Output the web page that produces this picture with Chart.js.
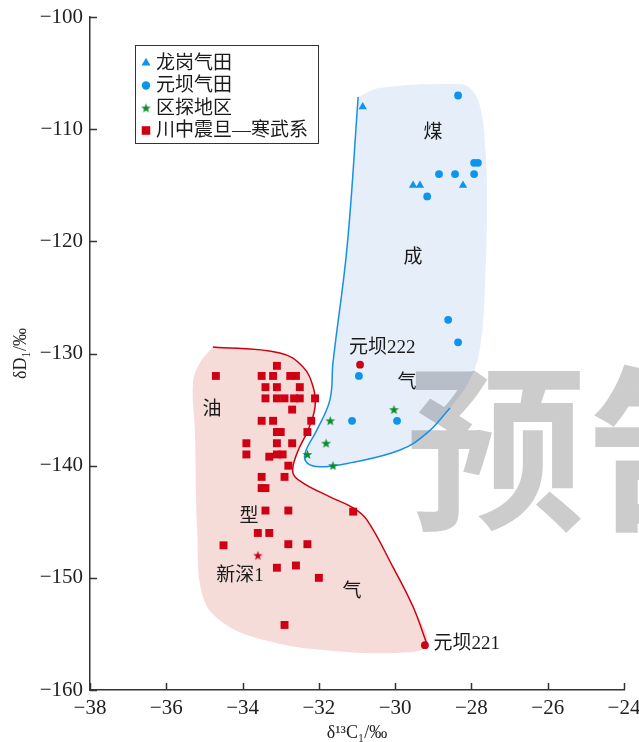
<!DOCTYPE html>
<html><head><meta charset="utf-8">
<script src="https://cdn.jsdelivr.net/npm/chart.js@4.4.0/dist/chart.umd.min.js"></script>
<style>html,body{margin:0;padding:0;background:#fff;}canvas{display:block;}</style>
</head><body>
<canvas id="c" width="639" height="742"></canvas>
<script>
// ---------- data ----------
const xTicks = [-38, -36, -34, -32, -30, -28, -26, -24];
const yTicks = [-160, -150, -140, -130, -120, -110, -100];
const seriesNames = ['龙岗气田', '元坝气田', '区探地区', '川中震旦—寒武系'];

const longgangX = [-30.85, -29.53, -29.35, -28.22];
const longgangY = [-108, -115, -115, -115];

const yuanbaX = [-28.35, -27.93, -27.83, -28.85, -28.43, -27.93, -29.16, -28.61, -28.35, -30.95, -31.13, -29.95];
const yuanbaY = [-107, -113, -113, -114, -114, -114, -116, -127, -129, -132, -136, -136];

const tanquX = [-30.03, -31.7, -31.81, -32.3, -31.63];
const tanquY = [-135, -136, -138, -139, -140];

const chuanzhongX = [-34.7, -33.1, -33.5, -33.2, -32.75, -32.6, -33.4, -33.1, -32.5, -33.4, -33.1, -32.9, -32.65, -32.5, -32.1,
  -32.7, -33.5, -33.2, -32.2, -33.1, -33.0, -32.3, -33.9, -33.1, -32.7, -33.9, -33.3, -33.1, -32.95, -32.8,
  -33.5, -32.9, -33.5, -33.4, -33.4, -32.8, -33.6, -33.3, -34.5, -32.8, -32.3, -33.1, -32.6, -32.0, -32.9, -31.1];
const chuanzhongY = [-132, -131.1, -132, -132, -132, -132, -133, -133, -133, -134, -134, -134, -134, -134, -134,
  -135, -136, -136, -136, -137, -137, -137, -138, -138, -138, -139, -139.2, -139, -139, -140,
  -141, -141, -142, -142, -144, -144, -146, -146, -147.1, -147, -147, -149.1, -148.9, -150, -154.2, -144.1];

// named wells
const yb222 = [-30.92, -131];
const yb221 = [-29.22, -156];
const xs1 = [-33.6, -148];

// coal-type gas field outline (fill) and its drawn boundary
const coalFillX = [-30.97, -30.4, -28.38, -28.04, -27.77, -27.64, -27.59, -27.64, -27.77, -28.04, -28.56, -29.16, -29.87, -31.18, -31.97, -32.31, -32.36, -32.05, -31.71, -31.63, -31.26, -30.97];
const coalFillY = [-107.13, -106.33, -105.97, -106.33, -108.02, -111.59, -116.04, -123.44, -129.4, -132.35, -134.85, -137.08, -138.6, -139.75, -140.1, -139.75, -138.86, -136.81, -134.14, -130.84, -120.5, -107.13];
const coalLineX = [-30.97, -31.26, -31.63, -31.71, -32.05, -32.36, -32.31, -31.97, -31.18, -29.87, -29.16, -28.56];
const coalLineY = [-107.13, -120.5, -130.84, -134.14, -136.81, -138.86, -139.75, -140.1, -139.75, -138.6, -137.08, -134.85];

// oil-type gas outline (fill) and its drawn boundary
const oilLineX = [-34.78, -33.02, -32.42, -32.15, -32.1, -32.28, -32.57, -32.68, -32.42, -31.71, -31.1, -30.74, -30.06, -29.53, -29.16];
const oilLineY = [-129.41, -129.95, -131.19, -132.98, -134.76, -136.81, -138.86, -140.64, -141.53, -142.78, -143.76, -144.83, -149.02, -152.58, -155.97];
const oilFillX = oilLineX.concat([-29.87, -31.97, -33.46, -34.51, -35.04, -35.19, -35.25, -35.3, -35.12, -34.78]);
const oilFillY = oilLineY.concat([-156.68, -156.42, -155.53, -154.01, -151.69, -145.72, -136.81, -132.62, -130.84, -129.41]);

// text annotations (data coordinates)
const noteTexts = ['煤', '成', '气', '油', '型', '气', '新深1', '元坝222', '元坝221'];
const noteX = [-29.01, -29.53, -29.69, -34.8, -33.83, -31.13, -34.07, -30.34, -28.12];
const noteY = [-110.34, -121.48, -132.62, -135.03, -144.56, -151.25, -149.82, -129.5, -155.88];

const watermark = '预告';

// ---------- helpers ----------
const pts = (xs, ys) => xs.map((x, i) => ({x: x, y: ys[i]}));
function starCanvas(color, R, r) {
  const s = Math.ceil(R * 2 + 2);
  const c = document.createElement('canvas');
  c.width = s; c.height = s;
  const g = c.getContext('2d');
  g.fillStyle = color;
  g.beginPath();
  for (let i = 0; i < 10; i++) {
    const rad = i % 2 === 0 ? R : r;
    const a = -Math.PI / 2 + i * Math.PI / 5;
    const px = s / 2 + rad * Math.cos(a), py = s / 2 + rad * Math.sin(a) + 0.4;
    if (i === 0) g.moveTo(px, py); else g.lineTo(px, py);
  }
  g.closePath(); g.fill();
  return c;
}
const BLUE = '#0b95ee', GREEN = '#0a8a2a', RED = '#d00014';
const greenStar = starCanvas(GREEN, 5.2, 2.1);
const redStar = starCanvas(RED, 5.0, 2.0);
const fmt = v => String(v).replace('-', '\u2212');
const CJK = '"Liberation Serif","Noto Sans CJK SC"';

const datasets = [
  {type: 'line', data: pts(oilFillX, oilFillY), fill: 'shape', backgroundColor: '#f6dcd8', borderWidth: 0, pointRadius: 0, tension: 0.4, order: 10},
  {type: 'line', data: pts(coalFillX, coalFillY), fill: 'shape', backgroundColor: '#e5eef9', borderWidth: 0, pointRadius: 0, tension: 0.4, order: 10},
  {type: 'line', data: pts(oilLineX, oilLineY), fill: false, borderColor: '#cc0010', borderWidth: 1.5, pointRadius: 0, tension: 0.4, order: 5},
  {type: 'line', data: pts(coalLineX, coalLineY), fill: false, borderColor: '#1890e6', borderWidth: 1.5, pointRadius: 0, tension: 0.4, order: 5},
  {label: seriesNames[0], data: pts(longgangX, longgangY), pointStyle: 'triangle', pointRadius: 4.8, backgroundColor: BLUE, borderColor: BLUE, pointBorderWidth: 0, order: 1},
  {label: seriesNames[1], data: pts(yuanbaX, yuanbaY), pointStyle: 'circle', pointRadius: 3.9, backgroundColor: BLUE, borderColor: BLUE, pointBorderWidth: 0, order: 1},
  {label: seriesNames[2], data: pts(tanquX, tanquY), pointStyle: greenStar, backgroundColor: GREEN, borderColor: GREEN, order: 1},
  {label: seriesNames[3], data: pts(chuanzhongX, chuanzhongY), pointStyle: 'rect', pointRadius: 5.6, backgroundColor: RED, borderColor: RED, pointBorderWidth: 0, order: 1},
  {data: [{x: yb222[0], y: yb222[1]}, {x: yb221[0], y: yb221[1]}], pointStyle: 'circle', pointRadius: 3.9, backgroundColor: RED, borderColor: RED, pointBorderWidth: 0, order: 1},
  {data: [{x: xs1[0], y: xs1[1]}], pointStyle: redStar, backgroundColor: RED, borderColor: RED, order: 1}
];

const decor = {
  id: 'decor',
  afterDatasetDraw(chart, args) {
    if (args.index !== 0) return;
    const {ctx} = chart;
    ctx.save();
    ctx.fillStyle = 'rgba(0,0,0,0.2)';
    ctx.font = 'bold 178px "Noto Sans CJK SC"';
    ctx.textBaseline = 'middle';
    ctx.textAlign = 'left';
    ctx.fillText(watermark, 407, 448);
    ctx.restore();
  },
  afterDraw(chart) {
    const {ctx, scales: {x, y}} = chart;
    ctx.save();
    // inward tick marks
    ctx.strokeStyle = '#333'; ctx.lineWidth = 1.5;
    ctx.beginPath();
    xTicks.forEach(v => { const p = Math.round(x.getPixelForValue(v)) + 0.5; ctx.moveTo(p, y.bottom); ctx.lineTo(p, y.bottom - 7); });
    yTicks.forEach(v => { const p = Math.round(y.getPixelForValue(v)) + 0.5; ctx.moveTo(x.left, p); ctx.lineTo(x.left + 7, p); });
    ctx.stroke();
    // annotations
    ctx.fillStyle = '#1a1a1a';
    ctx.font = '19px ' + CJK;
    ctx.textAlign = 'center'; ctx.textBaseline = 'middle';
    noteTexts.forEach((t, i) => ctx.fillText(t, x.getPixelForValue(noteX[i]), y.getPixelForValue(noteY[i])));
    // legend
    ctx.strokeStyle = '#333'; ctx.lineWidth = 1;
    ctx.strokeRect(135.5, 45.5, 183, 98);
    ctx.textAlign = 'left';
    ctx.font = '19px ' + CJK;
    [4, 5, 6, 7].forEach((di, i) => {
      const ds = chart.data.datasets[di];
      const cy = 63 + i * 22.5;
      ctx.fillStyle = ds.backgroundColor;
      ctx.strokeStyle = ds.backgroundColor;
      Chart.helpers.drawPoint(ctx, {pointStyle: ds.pointStyle, radius: (ds.pointRadius || 4) * 1.08, rotation: 0, borderWidth: 0}, 146, cy);
      ctx.fillStyle = '#1a1a1a';
      ctx.fillText(ds.label, 156, cy + 1);
    });
    ctx.restore();
  }
};

new Chart(document.getElementById('c'), {
  type: 'scatter',
  data: {datasets: datasets},
  options: {
    responsive: false,
    animation: false,
    events: [],
    layout: {padding: {top: 17, right: 15, left: 0, bottom: 0}},
    plugins: {legend: {display: false}, tooltip: {enabled: false}},
    scales: {
      x: {
        type: 'linear', min: -38, max: -24,
        afterBuildTicks: s => { s.ticks = xTicks.map(v => ({value: v})); },
        afterFit: s => { s.height = 52; s.paddingLeft = 0; s.paddingRight = 0; },
        grid: {display: false, drawTicks: false},
        border: {display: true, color: '#333', width: 1.5},
        ticks: {callback: v => fmt(v), font: {family: 'Liberation Serif', size: 21}, color: '#222', padding: 6, maxRotation: 0, autoSkip: false},
        title: {display: true, text: 'δ¹³C₁/‰', font: {family: 'Liberation Serif', size: 18, lineHeight: 1}, color: '#222', padding: 0}
      },
      y: {
        type: 'linear', min: -160, max: -100,
        afterBuildTicks: s => { s.ticks = yTicks.map(v => ({value: v})); },
        afterFit: s => { s.width = 90; s.paddingTop = 0; s.paddingBottom = 0; },
        grid: {display: false, drawTicks: false},
        border: {display: true, color: '#333', width: 1.5},
        ticks: {callback: v => fmt(v), font: {family: 'Liberation Serif', size: 21}, color: '#222', padding: 7, autoSkip: false},
        title: {display: true, text: 'δD₁/‰', font: {family: 'Liberation Serif', size: 18, lineHeight: 1}, color: '#222', padding: {top: 12, bottom: 0}}
      }
    }
  },
  plugins: [decor]
});
</script>
</body></html>
